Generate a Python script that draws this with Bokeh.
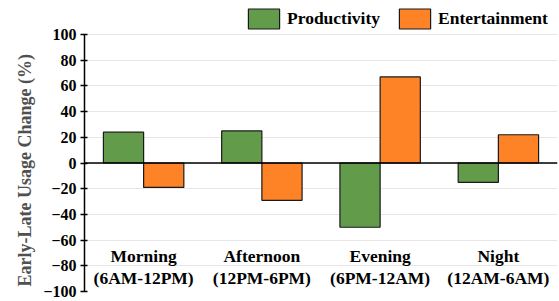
from bokeh.plotting import figure
from bokeh.models import (ColumnDataSource, FactorRange, FixedTicker, Span,
                          Legend, LegendItem, Title)
from bokeh.transform import dodge
from bokeh.core.properties import value
from bokeh.embed import file_html
from bokeh.resources import INLINE

periods = ["Morning", "Afternoon", "Evening", "Night"]
period_ranges = ["(6AM-12PM)", "(12PM-6PM)", "(6PM-12AM)", "(12AM-6AM)"]
productivity = [24, 25, -50, -15]
entertainment = [-19, -29, 67, 22]
y_ticks = [-100, -80, -60, -40, -20, 0, 20, 40, 60, 80, 100]

GREEN = "#629b4a"
ORANGE = "#fd8326"
FONT = "Liberation Serif"

src = ColumnDataSource(dict(period=periods, rng=period_ranges,
                            prod=productivity, ent=entertainment))

p = figure(width=559, height=301,
           x_range=FactorRange(factors=periods, range_padding=0),
           y_range=(-100, 126.5),
           output_backend="svg", toolbar_location=None,
           min_border_left=84, min_border_right=2,
           min_border_top=0, min_border_bottom=10)

r1 = p.vbar(x=dodge("period", -0.17, range=p.x_range), top="prod", bottom=0,
            width=0.34, source=src, fill_color=GREEN, line_color="#1a1a1a",
            line_width=1.2)
r2 = p.vbar(x=dodge("period", 0.17, range=p.x_range), top="ent", bottom=0,
            width=0.34, source=src, fill_color=ORANGE, line_color="#1a1a1a",
            line_width=1.2)

p.add_layout(Span(location=0, dimension="width", line_color="black", line_width=1.5))

p.text(x="period", y=-72.5, text="period", source=src,
       text_font=value(FONT), text_font_style="bold", text_font_size="17.5px",
       text_align="center", text_baseline="middle", text_color="black")
p.text(x="period", y=-89.5, text="rng", source=src,
       text_font=value(FONT), text_font_style="bold", text_font_size="17.5px",
       text_align="center", text_baseline="middle", text_color="black")

p.xaxis.visible = False
p.xgrid.grid_line_color = None
p.ygrid.grid_line_color = "#e6e6e6"
p.ygrid.grid_line_width = 1
p.outline_line_color = None

ax = p.yaxis[0]
ax.ticker = FixedTicker(ticks=y_ticks)
ax.bounds = (-100, 100)
ax.minor_tick_line_color = None
ax.major_tick_in = 3
ax.major_tick_out = 4
ax.axis_line_width = 1.5
ax.major_tick_line_width = 1.5
ax.axis_line_color = "black"
ax.major_tick_line_color = "black"
ax.major_label_text_font = FONT
ax.major_label_text_font_style = "bold"
ax.major_label_text_font_size = "16px"
ax.major_label_text_color = "black"
ax.major_label_standoff = 4

ylabel = Title(text="Early-Late Usage Change (%)", align="left", offset=5,
               vertical_align="middle", standoff=9,
               text_font=FONT, text_font_style="bold", text_font_size="18px",
               text_color="#505050")
p.add_layout(ylabel, "left")

legend = Legend(items=[LegendItem(label="Productivity", renderers=[r1]),
                       LegendItem(label="Entertainment", renderers=[r2])],
                location=(160, 260), orientation="horizontal",
                glyph_width=39, glyph_height=25, label_standoff=4, spacing=15,
                padding=0, margin=0, border_line_color=None,
                background_fill_alpha=0,
                label_text_font=FONT, label_text_font_style="bold",
                label_text_font_size="17.5px", label_text_color="black",
                label_height=20)
p.add_layout(legend)

open("out.html", "w").write(file_html(p, INLINE))
